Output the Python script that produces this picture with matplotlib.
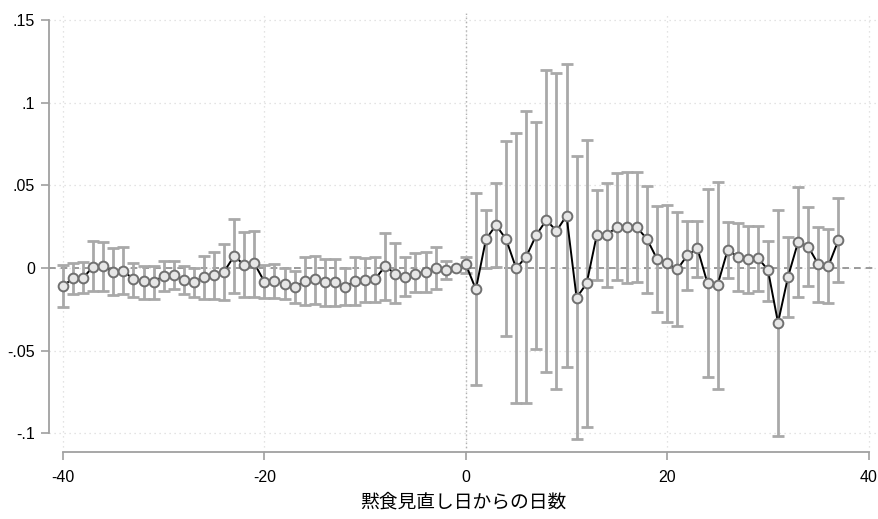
import numpy as np
import matplotlib
matplotlib.use("Agg")
import matplotlib.pyplot as plt

plt.rcParams['font.family'] = ['Liberation Sans', 'Noto Sans CJK JP']
plt.rcParams['axes.unicode_minus'] = False

# 黙食見直し日からの日数 (-1 は基準日)
days = list(range(-40, 38))

coef = [
    -0.0109, -0.0062, -0.0059, 0.0008, 0.0012, -0.0022, -0.0016, -0.0069, -0.0079, -0.0083,
    -0.0048, -0.0042, -0.0073, -0.0083, -0.0056, -0.0042, -0.0022, 0.0073, 0.0018, 0.0028,
    -0.0083, -0.0079, -0.0099, -0.0117, -0.0079, -0.0069, -0.0083, -0.0083, -0.0113, -0.0079,
    -0.0073, -0.0067, 0.0012, -0.0036, -0.0056, -0.0036, -0.0022, -0.0002, -0.0012, 0.0,
    0.0022, -0.0129, 0.0174, 0.0260, 0.0174, -0.0002, 0.0069, 0.0200, 0.0291, 0.0224,
    0.0317, -0.0180, -0.0093, 0.0198, 0.0198, 0.0250, 0.0246, 0.0246, 0.0174, 0.0053,
    0.0028, -0.0008, 0.0077, 0.0119, -0.0093, -0.0103, 0.0109, 0.0069, 0.0056, 0.0062,
    -0.0012, -0.0331, -0.0052, 0.0159, 0.0129, 0.0022, 0.0012, 0.0169,
]

ci_hi = [
    0.0018, 0.0032, 0.0036, 0.0163, 0.0159, 0.0119, 0.0125, 0.0028, 0.0012, 0.0012,
    0.0044, 0.0044, 0.0012, 0.0002, 0.0075, 0.0099, 0.0143, 0.0297, 0.0216, 0.0224,
    0.0018, 0.0024, -0.0002, -0.0018, 0.0065, 0.0073, 0.0055, 0.0055, -0.0002, 0.0065,
    0.0059, 0.0069, 0.0214, 0.0149, 0.0065, 0.0089, 0.0099, 0.0125, 0.0042, np.nan,
    0.0069, 0.0452, 0.0351, 0.0513, 0.0769, 0.0815, 0.0950, 0.0886, 0.1199, 0.1182,
    0.1233, 0.0678, 0.0775, 0.0472, 0.0516, 0.0577, 0.0583, 0.0583, 0.0496, 0.0375,
    0.0381, 0.0341, 0.0286, 0.0286, 0.0478, 0.0522, 0.0276, 0.0270, 0.0256, 0.0254,
    0.0165, 0.0351, 0.0186, 0.0492, 0.0367, 0.0246, 0.0236, 0.0422,
]

ci_lo = [
    -0.0234, -0.0157, -0.0153, -0.0139, -0.0139, -0.0163, -0.0159, -0.0174, -0.0190, -0.0186,
    -0.0137, -0.0129, -0.0159, -0.0174, -0.0188, -0.0188, -0.0194, -0.0153, -0.0178, -0.0174,
    -0.0180, -0.0184, -0.0190, -0.0214, -0.0224, -0.0218, -0.0230, -0.0230, -0.0224, -0.0224,
    -0.0204, -0.0204, -0.0194, -0.0210, -0.0168, -0.0143, -0.0143, -0.0127, -0.0067, np.nan,
    -0.0028, -0.0708, -0.0002, 0.0008, -0.0412, -0.0819, -0.0819, -0.0492, -0.0628, -0.0734,
    -0.0597, -0.1037, -0.0965, -0.0073, -0.0113, -0.0073, -0.0089, -0.0087, -0.0149, -0.0264,
    -0.0329, -0.0351, -0.0133, -0.0056, -0.0662, -0.0732, -0.0062, -0.0137, -0.0149, -0.0137,
    -0.0198, -0.1017, -0.0295, -0.0174, -0.0107, -0.0204, -0.0214, -0.0087,
]

xticks = [-40, -20, 0, 20, 40]
yticks = [-0.1, -0.05, 0, 0.05, 0.1, 0.15]
ytick_labels = ["-.1", "-.05", "0", ".05", ".1", ".15"]
xlabel = "黙食見直し日からの日数"

x = np.array(days)
b = np.array(coef)
hi = np.array(ci_hi)
lo = np.array(ci_lo)
ok = ~np.isnan(hi)

fig = plt.figure(figsize=(8.79, 5.19), dpi=100)
ax = fig.add_axes([0.0557, 0.1291, 0.9417, 0.8478])
ax.set_xlim(-41.39, 40.8)
ax.set_ylim(-0.1114, 0.155)

# grid (dotted)
for t in xticks:
    ax.axvline(t, color="#dadada", lw=0.9, ls=(0, (1, 3)), zorder=0)
for t in yticks:
    ax.axhline(t, color="#dadada", lw=0.9, ls=(0, (1, 3)), zorder=0)

# reference lines
ax.axhline(0, color="#8a8a8a", lw=1.2, ls=(0, (4, 3)), zorder=1)
ax.axvline(0, color="#b0b0b0", lw=1.0, ls=(0, (1, 2)), zorder=1)

ax.errorbar(x[ok], b[ok], yerr=[b[ok] - lo[ok], hi[ok] - b[ok]], fmt="none",
            ecolor="#a9a9a9", elinewidth=2.0, capsize=4, capthick=2.0, zorder=2)
ax.plot(x, b, color="black", lw=1.4, zorder=3)
ax.plot(x, b, ls="none", marker="o", ms=7, mfc="#e6e6e6", mec="#707070", mew=1.4, zorder=4)

ax.set_xticks(xticks)
ax.set_yticks(yticks)
ax.set_yticklabels(ytick_labels)
ax.tick_params(axis="both", direction="out", length=6, width=1.2, color="#a0a0a0",
               labelsize=11.5, labelcolor="black")
ax.tick_params(axis="x", pad=7)
ax.tick_params(axis="y", pad=4)

for s in ["top", "right"]:
    ax.spines[s].set_visible(False)
ax.spines["left"].set_bounds(-0.1, 0.15)
ax.spines["bottom"].set_bounds(-40, 40)
for s in ["left", "bottom"]:
    ax.spines[s].set_color("#a0a0a0")
    ax.spines[s].set_linewidth(1.3)

ax.set_xlabel(xlabel, family=["Noto Sans CJK JP", "DejaVu Sans"], fontsize=13.5, labelpad=5)

fig.savefig("out.png", dpi=100)
